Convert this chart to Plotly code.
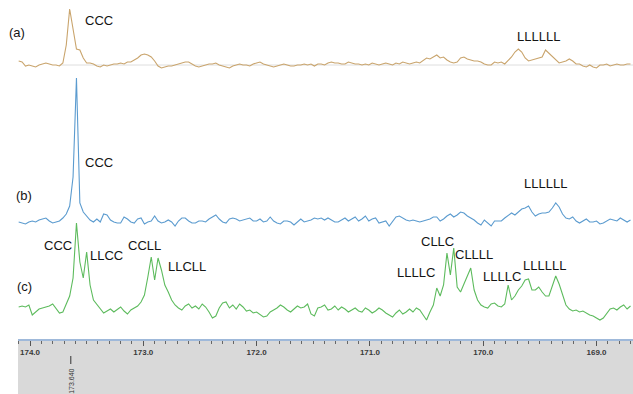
import numpy as np
import plotly.graph_objects as go

# Chemical-shift axis of the three 13C carbonyl spectra (ppm, uniform digitisation)
START_PPM = 174.10
STEP_PPM = 0.03

# (a) intensities
spec_a = [4, 3, -1, 0, -1, -2, 0, 1, 2, 1, 0, 0, -1, 2, 20, 56, 35, 16, 15, 7,
          2, 2, 1, -1, -2, 0, -1, 0, 1, 1, 2, 1, 3, 3, 5, 7, 10, 11, 10, 8,
          4, -1, -3, -2, -1, -1, 0, 1, 2, 3, 3, 1, -1, -2, -1, 0, 1, 1, 2, 0,
          -1, -2, -3, -1, 0, 1, 0, 0, -1, 1, 2, 3, 1, 0, -1, -2, -1, 0, 1, 0,
          -1, -1, 0, 0, 1, 0, 1, -1, 1, 1, 0, 2, 3, 2, 2, 1, 1, 3, 2, 1,
          1, 0, 1, 0, 2, 1, 0, 1, 2, 1, 0, 2, 1, 3, 2, 1, 2, 3, 2, 5,
          7, 6, 8, 10, 7, 8, 5, 3, 2, 3, 7, 8, 6, 5, 4, 4, 3, 1, 0, 0,
          3, 2, 3, 1, 4, 8, 13, 16, 13, 7, 4, 5, 6, 7, 8, 15, 12, 8, 5, 2,
          3, 4, 6, 4, 1, 1, -1, -2, 0, -2, -3, 0, 0, 1, -1, 0, 1, 0, 0, 1, 1]

# (b) intensities
spec_b = [0, -1, -2, 0, 1, 0, 2, 3, 4, 1, -1, 0, 1, 4, 8, 16, 45, 144, 19, 10,
          6, 2, 0, 3, 0, 8, 7, 2, 0, -1, -1, 5, 3, 0, -1, 3, 4, -2, 0, 1,
          6, 1, -1, 0, 2, 0, -4, 1, 4, 4, 1, -1, -1, 1, 1, 0, 3, 5, 7, 3,
          0, -1, 3, 4, 3, 1, 2, 3, 4, 1, 1, 3, 0, 1, 5, 1, -1, -2, 1, 1,
          0, -3, 0, 3, 0, 1, 2, 4, 3, 4, 2, 4, 2, 0, 0, 2, 4, 1, 3, 5,
          1, 3, 6, 1, 3, 4, -1, 0, 1, -4, 1, 5, 6, 4, 2, 1, 2, 1, 0, 1,
          2, 3, 5, 5, 1, 3, 6, 8, 5, 7, 10, 9, 6, 4, 2, -1, -3, 2, -1, -4,
          1, 1, 1, 4, 7, 9, 7, 10, 13, 14, 16, 10, 6, 8, 9, 9, 10, 14, 19, 15,
          8, 4, 3, 5, 1, -1, 1, 3, 0, 0, 1, -2, -1, 1, 3, 2, 1, 4, 2, 0, 2]

# (c) intensities
spec_c = [1, 2, 1, 3, -7, -4, -1, 0, 1, 2, 4, -1, -5, -4, 5, 12, 30, 85, 46, 30,
          56, 23, 8, 4, 0, -5, -3, -1, -4, -1, 1, -3, -6, -2, 0, 2, 6, 13, 31, 51,
          28, 50, 38, 23, 16, 8, 3, 0, -2, 2, 4, 0, 2, -1, 4, 1, -4, -10, -8, 0,
          5, 6, 0, 3, -1, 4, 1, -3, -2, -5, -4, -7, -9, -8, -4, -2, 0, 3, 1, -2,
          -4, -1, 2, 0, 1, 4, -6, -8, 0, 1, 3, -2, -1, 2, -2, 1, -1, -4, -2, 0,
          -3, -4, 0, -2, -5, -3, 0, -2, -5, -7, -9, -5, -2, -6, -4, -1, -4, 0, -2, -7,
          -12, -4, 3, 20, 12, 23, 55, 33, 60, 21, 16, 24, 33, 40, 18, 8, 3, 1, 0, 4,
          5, 2, 1, 4, 23, 8, 12, 18, 22, 28, 29, 18, 18, 21, 16, 12, 12, 22, 32, 24,
          13, 3, -1, -3, -2, -4, -3, -5, -7, -8, -10, -12, -10, -5, -1, 0, -2, 1, 3, -1, 2]

series_names = ["(a)", "(b)", "(c)"]
series_colors = ["#c9a46c", "#5b9bcf", "#5dbb5d"]
series_offsets = [274, 117, 31]

peak_labels = ["CCC", "LLLLLL", "CCC", "LLLLLL",
               "CCC", "LLCC", "CCLL", "LLCLL", "CLLC", "CLLLL", "LLLLC", "LLLLC", "LLLLLL"]
marker_ppm = 173.640
tick_values = [174.0, 173.0, 172.0, 171.0, 170.0, 169.0]

W, H = 633, 394
LEFT = 18
AXIS_BAND = 55
X_RANGE = [174.106, 168.678]


def px(x, y):
    """Pixel position in the page -> paper coordinates."""
    return (x - LEFT) / (W - LEFT), 1 - y / H


fig = go.Figure()
for name, vals, col, off in zip(series_names, [spec_a, spec_b, spec_c], series_colors, series_offsets):
    shift = START_PPM - STEP_PPM * np.arange(len(vals))
    fig.add_trace(go.Scatter(x=shift, y=np.array(vals) + off, mode="lines", name=name,
                             line=dict(color=col, width=1.1), hoverinfo="skip"))

# faint zero line under spectrum (a)
fig.add_shape(type="line", xref="x", yref="y", x0=173.74, x1=X_RANGE[1],
              y0=series_offsets[0], y1=series_offsets[0],
              line=dict(color="#dedede", width=1), layer="below")

# grey scale band under the axis
fig.add_shape(type="rect", xref="paper", yref="paper", x0=0, x1=1, y0=0, y1=AXIS_BAND / H,
              fillcolor="#d9d9d9", line=dict(width=0), layer="below")

# reference line + rotated label for the marked shift
fig.add_shape(type="line", xref="x", yref="paper", x0=marker_ppm, x1=marker_ppm,
              y0=1 - 364 / H, y1=1 - 356 / H, line=dict(color="#333333", width=1))
fig.add_annotation(x=marker_ppm, xref="x", y=1 - 381 / H, yref="paper",
                   text=f"{marker_ppm:.3f}", textangle=-90, showarrow=False,
                   font=dict(family="Liberation Sans", size=7, color="#333333"),
                   xanchor="center", yanchor="middle")

label_font = dict(family="Liberation Sans", size=13, color="#141414")
for name, (x, y) in zip(series_names, [(17, 33), (24, 195), (24, 286)]):
    xp, yp = px(x, y)
    fig.add_annotation(x=xp, y=yp, xref="paper", yref="paper", text=name, showarrow=False,
                       font=label_font, xanchor="center", yanchor="middle")

label_pos = [(99.5, 20), (538, 36), (99.5, 162), (545.5, 183),
             (57.5, 245), (106.5, 255), (144, 245), (186.5, 266),
             (437, 242), (474, 254.5), (416, 272), (501.5, 276.5), (544.5, 265.5)]
for text, (x, y) in zip(peak_labels, label_pos):
    xp, yp = px(x, y)
    fig.add_annotation(x=xp, y=yp, xref="paper", yref="paper", text=text, showarrow=False,
                       font=label_font, xanchor="center", yanchor="middle")

fig.update_layout(
    width=W, height=H, margin=dict(l=LEFT, r=0, t=0, b=0),
    paper_bgcolor="white", plot_bgcolor="white", showlegend=False,
    xaxis=dict(range=X_RANGE, tickvals=tick_values, tickformat=".1f",
               ticks="outside", ticklen=5, tickwidth=1, tickcolor="#555555",
               showline=True, linecolor="#9fb9da", linewidth=1.5,
               showgrid=False, zeroline=False,
               tickfont=dict(family="Liberation Sans", size=8, color="#3a3a3a", weight="bold"),
               minor=dict(dtick=0.1, ticks="outside", ticklen=3, tickcolor="#666666", showgrid=False)),
    yaxis=dict(range=[0, H - AXIS_BAND], domain=[AXIS_BAND / H, 1], visible=False,
               showgrid=False, zeroline=False),
)

fig.write_html("out.html")
